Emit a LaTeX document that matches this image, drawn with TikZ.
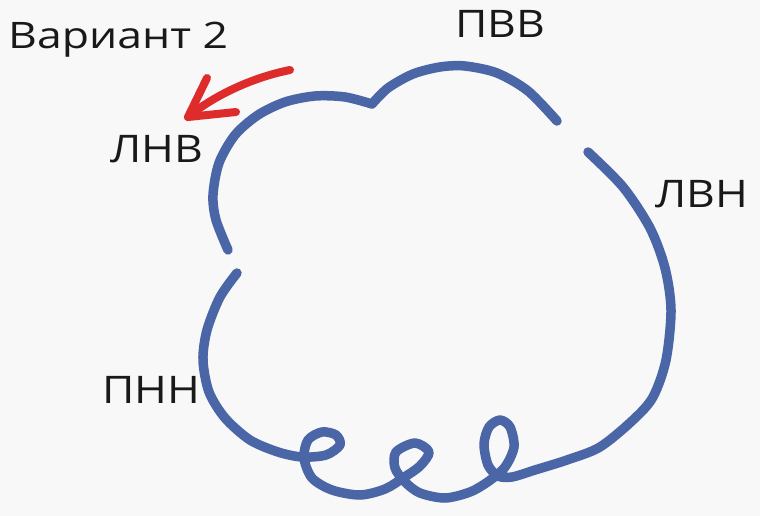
\documentclass[tikz,border=0pt]{standalone}
\usepackage{fontspec}
\setmainfont{Open Sans}
\newfontfamily\lblfont[FakeStretch=1.17]{Open Sans}
\newfontfamily\titlefont[FakeStretch=1.22]{Open Sans}
\definecolor{bg}{RGB}{247,248,247}
\definecolor{cblue}{RGB}{74,102,166}
\definecolor{cred}{RGB}{222,44,44}
\definecolor{txt}{RGB}{25,25,25}
\begin{document}
\begin{tikzpicture}[x=1pt,y=-1pt,
  curve/.style={draw=cblue,line width=9.5pt,line cap=round,line join=round},
  redline/.style={draw=cred,line width=8pt,line cap=round,line join=round},
  lbl/.style={font=\lblfont\fontsize{38}{38}\selectfont,text=txt,inner sep=0pt,anchor=base west},
  title/.style={font=\titlefont\fontsize{36.5}{36.5}\selectfont,text=txt,inner sep=0pt,anchor=base west}]
\fill[bg] (0,0) rectangle (760,516);
\useasboundingbox (0,0) rectangle (760,516);

% labels
\node[title] (variant) at (8,49) {Вариант 2};
\node[lbl] (lnv) at (110,162) {ЛНВ};
\node[lbl] (pvv) at (455,38) {ПВВ};
\node[lbl] (lvn) at (655,207) {ЛВН};
\node[lbl] (pnn) at (102,403) {ПНН};

% upper-left and upper arcs (cloud top)
\draw[curve] plot[smooth] coordinates {(228,250) (216,220) (213,195) (219,163) (235,135) (258,115) (285,102) (315,96) (345,97) (372,104)}
  -- plot[smooth] coordinates {(372,104) (388,88) (413,74) (440,67) (465,66) (497,73) (528,91) (557,121)};

% lower stroke with loops
\draw[curve] plot[smooth] coordinates {
  (237,273) (220,297) (207,330) (203,360) (209,392) (225,418) (250,440) (278,452)
  (302,457) (326,455) (340,445) (336,435) (322,432) (308,440) (304,458) (312,478) (332,490) (360,495)
  (385,489) (403,478) (420,466) (429,452) (415,443) (396,452) (395,468) (405,482) (420,493) (445,498)
  (470,492) (489,481) (505,467) (514,447) (510,427) (500,420) (489,427) (484,444) (488,465) (498,476)
  (512,477) (535,470) (567,460) (600,447) (633,420) (653,397) (666,360) (671,310) (665,268) (650,228) (623,187) (588,152)};

% red arrow
\coordinate (tail) at (290,70);
\coordinate (tip) at (188,117);
\coordinate (barbA) at (207,78);
\coordinate (barbB) at (236,112);
\draw[redline] (tail) .. controls (250,78) and (212,97) .. (tip);
\draw[redline] (barbA) -- (tip) -- (barbB);
\end{tikzpicture}
\end{document}
